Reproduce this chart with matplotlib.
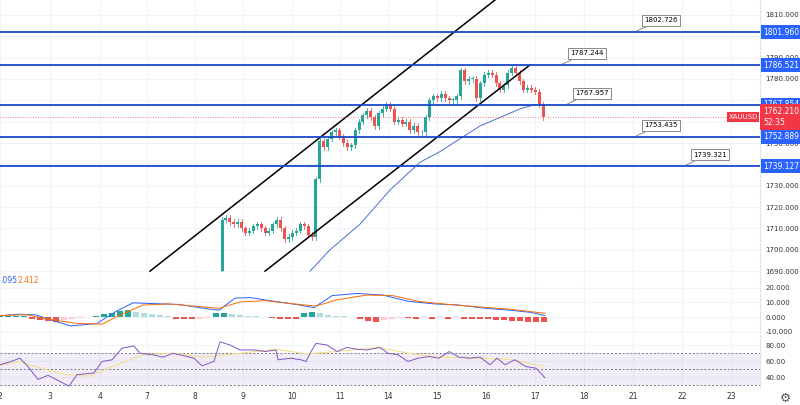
import numpy as np
import matplotlib.pyplot as plt
import matplotlib.patches as patches

W, H = 800, 405
XMAX = 760  # x data runs in chart pixels

# ---- data ----
closes = [1714, 1715, 1713, 1712, 1713, 1710, 1708, 1709, 1711, 1712, 1710, 1708, 1709, 1712,
          1714, 1710, 1705, 1706, 1708, 1709, 1712, 1711, 1707, 1706,
          1733, 1751, 1748, 1752, 1755, 1756, 1753, 1750, 1748, 1749, 1756, 1760, 1763, 1765,
          1762, 1758, 1764, 1766, 1768, 1766, 1760, 1761, 1759, 1760, 1756, 1758, 1755, 1755,
          1762, 1770, 1772, 1771, 1773, 1771, 1770, 1770, 1772, 1784, 1779, 1780, 1780, 1771,
          1778, 1782, 1783, 1782, 1778, 1775, 1777, 1783, 1785, 1783, 1779, 1775, 1776, 1775,
          1774, 1768, 1762]
first_open = 1690

ma_x = [310, 330, 360, 390, 420, 440, 480, 520, 535, 545]
ma_y = [1690, 1700, 1712, 1728, 1741, 1746, 1758, 1766, 1768, 1768]

levels = [1801.960, 1786.521, 1767.854, 1752.889, 1739.127]
callouts = ["1802.726", "1787.244", "1767.957", "1753.435", "1739.321"]
callout_x = [634, 560, 565, 634, 683]
last_price = 1762.210

macd_x = [0, 20, 36, 51, 71, 97, 117, 133, 153, 179, 204, 219, 235, 250, 270, 296, 314,
          332, 357, 383, 408, 434, 459, 485, 510, 531, 545]
macd_v = [1, 2, 1.5, -2, -6, -4.3, 4.3, 9.7, 9.2, 8.6, 6, 4.7, 12.9, 13.3, 11.2, 8.6, 6.5,
          14.6, 16.1, 15, 10.8, 9, 8.2, 6, 4.7, 3.2, 1]
sig_x = [0, 26, 51, 77, 102, 122, 143, 168, 194, 219, 240, 265, 291, 316, 337, 367, 393,
         418, 449, 480, 510, 545]
sig_v = [1, 1.7, -1.7, -4.3, -4.7, 2, 8.2, 9, 7.5, 6, 10.3, 11.2, 9.2, 7.5, 11.8, 15, 14.6,
         10.8, 8.6, 6.9, 5.4, 2.6]
hist = [1, 1, 1, 1, -1, -2, -2.5, -3, -2, -1, -0.5, 0.2, 1, 2, 3, 4, 5, 3.5, 2.5, 1.8, 1.2,
        0.6, -1, -1.5, -1.5, -1.2, -0.5, 2.5, 3, 2, 1.5, 1, 0.6, 0.3, -0.5, -1, -1, -1.5,
        3, 3.5, 2.5, 1.5, 1, 0.5, 0.2, -1.5, -2.5, -3, -2, -1, -0.5, -0.5, -1, -0.8, -1,
        -0.8, -1.2, -0.8, -1, -1.2, -1.3, -1.5, -1.8, -2, -2.5, -2.8, -3, -3.2, -3.5]

rsi_x = [0, 10, 20, 28, 38, 48, 56, 69, 77, 94, 102, 112, 122, 134, 140, 153, 163, 173,
         194, 202, 214, 220, 230, 240, 255, 265, 276, 278, 291, 301, 306, 311, 316, 327, 337,
         347, 357, 367, 380, 388, 398, 408, 418, 429, 439, 449, 459, 469, 480, 490, 497, 505,
         515, 526, 536, 545]
rsi_v = [55.3, 59, 63.5, 53, 37, 42, 37, 28.6, 43, 45, 59.4, 61.5, 76, 78.8, 69.7, 67.7,
         64.8, 69.7, 63.5, 54, 59.4, 84, 80, 73.8, 73.8, 71.8, 73.8, 61.5, 63.5, 61.5, 59.4,
         71.8, 82, 80, 71.8, 77, 74.6, 73.8, 77, 69.7, 67.7, 59.4, 63.5, 65.6, 63.5, 71.8,
         64.8, 63.5, 64.8, 55.3, 63.5, 55.3, 61.5, 53, 51, 39]
rsima_x = [0, 20, 41, 66, 89, 112, 143, 173, 204, 235, 276, 306, 337, 378, 408, 439, 480,
           510, 545]
rsima_v = [55, 59, 51, 43, 41, 53, 67.7, 69.7, 64.8, 69, 74.6, 69, 71.8, 77, 69.7, 64.8,
           63.5, 62, 53]

date_pos = [0, 50, 100, 147, 195, 243, 292, 340, 388, 437, 486, 535, 584, 633, 682, 731]
date_lab = ["2", "3", "4", "7", "8", "9", "10", "11", "14", "15", "16", "17", "18", "21",
            "22", "23"]

GREEN, RED, BLUE = "#26a69a", "#ef5350", "#1848cc"
GRID = "#f0f3fa"

fig = plt.figure(figsize=(8, 4.05), dpi=100)


def panel(top, bottom):
    ax = fig.add_axes([0, 1 - bottom / H, XMAX / W, (bottom - top) / H])
    ax.set_xlim(0, XMAX)
    ax.yaxis.tick_right()
    ax.tick_params(axis="y", length=0, labelsize=5, colors="#333333", pad=4)
    ax.set_xticks(date_pos)
    ax.tick_params(axis="x", length=0, labelbottom=False)
    ax.grid(color=GRID, lw=0.8)
    for s in ["top", "left", "bottom"]:
        ax.spines[s].set_visible(False)
    ax.spines["right"].set_color("#e0e3eb")
    ax.set_axisbelow(True)
    return ax


# ---- price panel ----
ax = panel(0, 272)
ax.set_ylim(1689.6, 1817)
ax.set_yticks(np.arange(1690, 1811, 10))
ax.set_yticklabels([f"{v:.3f}" for v in np.arange(1690, 1811, 10)])
n = len(closes)
xs = np.linspace(222, 543, n)
opens = [first_open] + closes[:-1]
for x, o, c in zip(xs, opens, closes):
    col = GREEN if c >= o else RED
    hi, lo = max(o, c) + 1.2, min(o, c) - 1.2
    ax.plot([x, x], [lo, hi], color=col, lw=0.6)
    ax.add_patch(patches.Rectangle((x - 1.5, min(o, c)), 3, max(abs(c - o), 0.4),
                                   color=col, lw=0))
ax.plot(ma_x, ma_y, color="#4a6fd4", lw=0.7)
ax.plot([150, 495], [1690, 1817], color="black", lw=1.1)
ax.plot([265, 530], [1690, 1786.6], color="black", lw=1.1)
ax.axhline(last_price, color=RED, lw=0.6, ls=(0, (1, 2)))
for lv, txt, cx in zip(levels, callouts, callout_x):
    ax.axhline(lv, color=BLUE, lw=1.3)
    ax.annotate(txt, xy=(cx, lv), xytext=(cx + 10, lv + 5.5), fontsize=5,
                ha="left", va="center",
                bbox=dict(boxstyle="square,pad=0.35", fc="white", ec="#777777", lw=0.6),
                arrowprops=dict(arrowstyle="-", color="#777777", lw=0.6))
    ax.text(1.004, lv, f"{lv:.3f}", transform=ax.get_yaxis_transform(), fontsize=5.5,
            color="white", va="center", ha="left", zorder=10, clip_on=False,
            bbox=dict(boxstyle="square,pad=0.3", fc="#2962ff", ec="none"))
ax.text(1.004, last_price, f"{last_price:.3f}\n52:35", transform=ax.get_yaxis_transform(),
        fontsize=5.5, color="white", va="center", ha="left", linespacing=1.4, zorder=10,
        bbox=dict(boxstyle="square,pad=0.35", fc="#f23645", ec="none"))
ax.text(0.997, last_price, "XAUUSD", transform=ax.get_yaxis_transform(), fontsize=5,
        color="white", va="center", ha="right",
        bbox=dict(boxstyle="square,pad=0.25", fc="#f23645", ec="none"))

# ---- MACD panel ----
ax2 = panel(273, 333)
ax2.set_ylim(-10.8, 30)
ax2.set_yticks([-10, 0, 10, 20])
ax2.set_yticklabels(["-10.000", "0.000", "10.000", "20.000"])
hx = np.arange(len(hist)) * 8
prev = [0] + hist[:-1]
cols = []
for h, p in zip(hist, prev):
    if h >= 0:
        cols.append(GREEN if h >= p else "#b2dfdb")
    else:
        cols.append(RED if h <= p else "#ffcdd2")
ax2.bar(hx, hist, width=6, color=cols)
ax2.plot(macd_x, macd_v, color="#2962ff", lw=0.7)
ax2.plot(sig_x, sig_v, color="#ff6d00", lw=0.7)
ax2.text(0, 25, ".095", color="#2962ff", fontsize=5.5, va="center")
ax2.text(17, 25, "2.412", color="#ff6d00", fontsize=5.5, va="center")

# ---- RSI panel ----
ax3 = panel(335, 388)
ax3.set_ylim(26.25, 92.5)
ax3.set_yticks([40, 60, 80])
ax3.set_yticklabels(["40.00", "60.00", "80.00"])
ax3.axhspan(30, 70, color="#7e57c2", alpha=0.1, lw=0)
for lv in [30, 50, 70]:
    ax3.axhline(lv, color="#787b86", lw=0.7, ls=(0, (2, 2)))
ax3.plot(rsima_x, rsima_v, color="#f5e08c", lw=0.8)
ax3.plot(rsi_x, rsi_v, color="#7e57c2", lw=0.7)
ax3.tick_params(axis="x", labelbottom=True, labelsize=5.5, colors="#333333", pad=3)
ax3.set_xticklabels(date_lab)
fig.text(785 / W, 1 - 398 / H, "⚙", fontsize=9, color="#555555", ha="center", va="center")

fig.savefig("out.png", dpi=100)
